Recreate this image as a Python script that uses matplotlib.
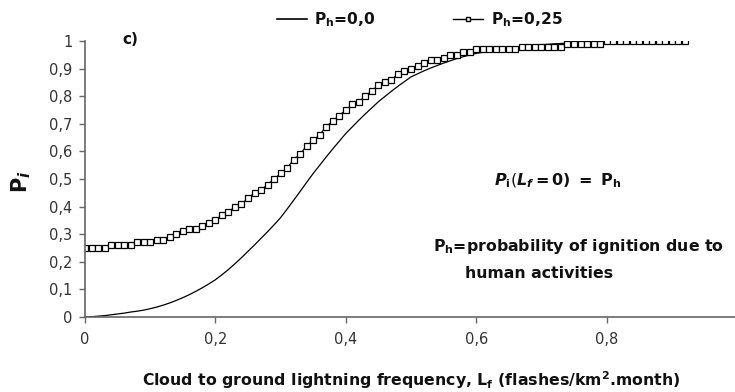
import matplotlib
matplotlib.use('Agg')
import matplotlib.pyplot as plt
from matplotlib.lines import Line2D

plt.rcParams['font.family'] = ['DejaVu Sans']
plt.rcParams['mathtext.fontset'] = 'custom'
plt.rcParams['mathtext.rm'] = 'DejaVu Sans'
plt.rcParams['mathtext.bf'] = 'DejaVu Sans:bold'
plt.rcParams['mathtext.it'] = 'DejaVu Sans:italic'
plt.rcParams['mathtext.bfit'] = 'DejaVu Sans:italic:bold'

# lightning frequency (flashes/km2.month)
lf = [0.00, 0.01, 0.02, 0.03, 0.04, 0.05, 0.06, 0.07, 0.08, 0.09,
      0.10, 0.11, 0.12, 0.13, 0.14, 0.15, 0.16, 0.17, 0.18, 0.19,
      0.20, 0.21, 0.22, 0.23, 0.24, 0.25, 0.26, 0.27, 0.28, 0.29,
      0.30, 0.31, 0.32, 0.33, 0.34, 0.35, 0.36, 0.37, 0.38, 0.39,
      0.40, 0.41, 0.42, 0.43, 0.44, 0.45, 0.46, 0.47, 0.48, 0.49,
      0.50, 0.51, 0.52, 0.53, 0.54, 0.55, 0.56, 0.57, 0.58, 0.59,
      0.60, 0.61, 0.62, 0.63, 0.64, 0.65, 0.66, 0.67, 0.68, 0.69,
      0.70, 0.71, 0.72, 0.73, 0.74, 0.75, 0.76, 0.77, 0.78, 0.79,
      0.80, 0.81, 0.82, 0.83, 0.84, 0.85, 0.86, 0.87, 0.88, 0.89,
      0.90, 0.91, 0.92]

# Ph = 0,0
pi_h0 = [0.000, 0.001, 0.003, 0.005, 0.008, 0.011, 0.014, 0.018, 0.021, 0.025,
         0.030, 0.036, 0.043, 0.051, 0.060, 0.070, 0.081, 0.093, 0.106, 0.120,
         0.135, 0.153, 0.172, 0.193, 0.215, 0.238, 0.261, 0.285, 0.309, 0.334,
         0.360, 0.391, 0.423, 0.455, 0.488, 0.520, 0.550, 0.580, 0.609, 0.637,
         0.665, 0.689, 0.713, 0.736, 0.758, 0.780, 0.799, 0.818, 0.836, 0.853,
         0.870, 0.881, 0.892, 0.902, 0.911, 0.920, 0.928, 0.936, 0.943, 0.949,
         0.955, 0.959, 0.963, 0.967, 0.971, 0.975, 0.977, 0.980, 0.982, 0.985,
         0.987, 0.988, 0.990, 0.991, 0.993, 0.994, 0.995, 0.996, 0.997, 0.997,
         0.998, 0.998, 0.999, 0.999, 0.999, 1.000, 1.000, 1.000, 1.000, 1.000,
         1.000, 1.000, 1.000]

# Ph = 0,25
pi_h25 = [0.25, 0.25, 0.25, 0.25, 0.26, 0.26, 0.26, 0.26, 0.27, 0.27,
          0.27, 0.28, 0.28, 0.29, 0.30, 0.31, 0.32, 0.32, 0.33, 0.34,
          0.35, 0.37, 0.38, 0.40, 0.41, 0.43, 0.45, 0.46, 0.48, 0.50,
          0.52, 0.54, 0.57, 0.59, 0.62, 0.64, 0.66, 0.69, 0.71, 0.73,
          0.75, 0.77, 0.78, 0.80, 0.82, 0.84, 0.85, 0.86, 0.88, 0.89,
          0.90, 0.91, 0.92, 0.93, 0.93, 0.94, 0.95, 0.95, 0.96, 0.96,
          0.97, 0.97, 0.97, 0.97, 0.97, 0.97, 0.97, 0.98, 0.98, 0.98,
          0.98, 0.98, 0.98, 0.98, 0.99, 0.99, 0.99, 0.99, 0.99, 0.99,
          1.00, 1.00, 1.00, 1.00, 1.00, 1.00, 1.00, 1.00, 1.00, 1.00,
          1.00, 1.00, 1.00]

xticks = [0, 0.2, 0.4, 0.6, 0.8]
xticklabels = ['0', '0,2', '0,4', '0,6', '0,8']
yticks = [0, 0.1, 0.2, 0.3, 0.4, 0.5, 0.6, 0.7, 0.8, 0.9, 1.0]
yticklabels = ['0', '0,1', '0,2', '0,3', '0,4', '0,5', '0,6', '0,7', '0,8', '0,9', '1']

fig = plt.figure(figsize=(7.35, 3.92), dpi=100)
ax = fig.add_axes([85/735, 75/392, 650/735, 276/392])

axcol = '#666666'
txtcol = '#333333'
dark = '#111111'

ax.plot(lf, pi_h0, color='black', linewidth=0.9)
ax.plot(lf, pi_h25, color='black', linewidth=0.9, marker='s', markersize=4.8,
        markerfacecolor='white', markeredgecolor='black', markeredgewidth=0.9)

ax.set_xlim(0, 650/652)
ax.set_ylim(0, 1)
ax.set_xticks(xticks)
ax.set_xticklabels(xticklabels)
ax.set_yticks(yticks)
ax.set_yticklabels(yticklabels)

for s in ['top', 'right']:
    ax.spines[s].set_visible(False)
for s in ['left', 'bottom']:
    ax.spines[s].set_color(axcol)
    ax.spines[s].set_linewidth(1.2)
ax.tick_params(direction='out', length=4, width=1, color=axcol,
               labelsize=10.5, labelcolor=txtcol)
ax.tick_params(axis='x', pad=7)
ax.tick_params(axis='y', pad=5)

ax.set_xlabel(r'Cloud to ground lightning frequency, L$_\mathbf{f}$ (flashes/km$^\mathbf{2}$.month)',
              fontsize=11.3, fontweight='bold', color=dark)
ax.xaxis.set_label_coords(0.5015, -0.188)
ax.set_ylabel(r'$\mathbf{P}_{\mathbfit{i}}$', fontsize=15, color=dark)
ax.yaxis.set_label_coords(-0.08, 0.49)

fig.text(122/735, 1 - 39/392, 'c)', fontsize=11, fontweight='bold', va='center', color=dark)

fig.text(558/735, 1 - 181/392, r'$\mathbfit{P}_{\mathbf{i}}(\mathbfit{L}_{\mathbfit{f}}\mathbf{=0)\ =\ P}_{\mathbf{h}}$',
         fontsize=11.5, ha='center', va='center', color=dark)
fig.text(433/735, 1 - 247/392, r'P$_\mathbf{h}$=probability of ignition due to',
         fontsize=11.3, fontweight='bold', ha='left', va='center', color=dark)
fig.text(465/735, 1 - 273/392, 'human activities',
         fontsize=11.3, fontweight='bold', ha='left', va='center', color=dark)

handles = [Line2D([], [], color='black', linewidth=1.2),
           Line2D([], [], color='black', linewidth=1.0, marker='s', markersize=3.5,
                  markerfacecolor='white', markeredgecolor='black', markeredgewidth=1.0)]
labels = [r'P$_\mathbf{h}$=0,0', r'P$_\mathbf{h}$=0,25']
leg = fig.legend(handles, labels, ncol=2, loc='center left', bbox_to_anchor=(277/735, 1 - 20/392),
                 frameon=False, handlelength=1.9, handletextpad=0.5, columnspacing=5.0,
                 prop={'weight': 'bold', 'size': 11.2}, borderpad=0, borderaxespad=0)
for t in leg.get_texts():
    t.set_color(dark)

fig.savefig('out.png', dpi=100)
